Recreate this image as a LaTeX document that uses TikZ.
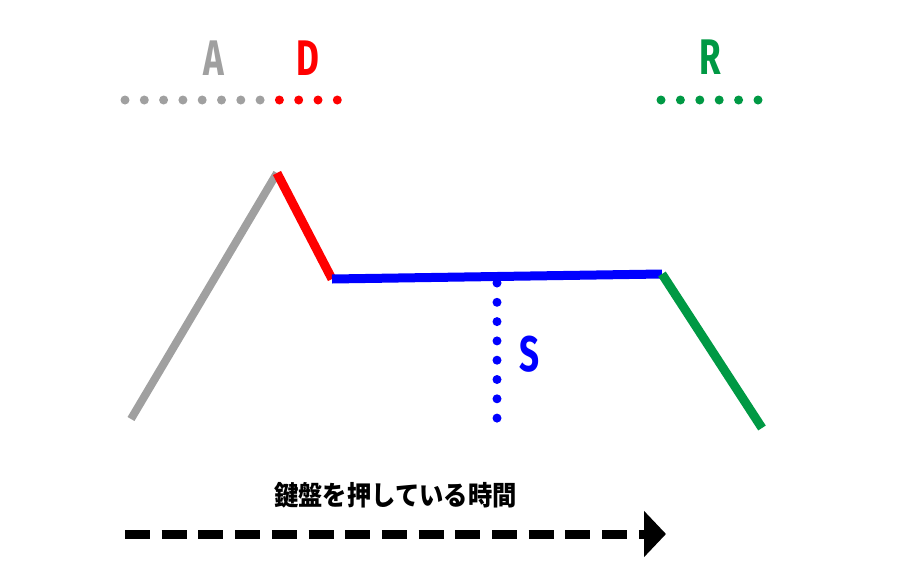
\documentclass[tikz,border=0pt]{standalone}
\usepackage{fontspec}
\usepackage{tikz}
\usetikzlibrary{arrows.meta}
\newfontfamily\adsrfont[FakeStretch=0.7]{Fira Sans}
\newfontfamily\jpfont[FakeStretch=0.9]{Noto Sans CJK JP}
\definecolor{agray}{RGB}{160,160,160}
\definecolor{dred}{RGB}{255,0,0}
\definecolor{sblue}{RGB}{0,0,255}
\definecolor{rgreen}{RGB}{0,153,68}

\begin{document}
\begin{tikzpicture}[x=1pt,y=-1pt]
  \useasboundingbox (0,0) rectangle (908,587);
  \tikzstyle{Phase}=[line width=9pt]
  \tikzstyle{PhaseLabel}=[font=\adsrfont\bfseries\fontsize{50}{50}\selectfont,inner sep=0pt]
  %\tikzstyle{Dot}=[circle,fill,inner sep=0pt,minimum size=9pt]

  % envelope
  \coordinate (start) at (131,419);
  \coordinate (peak) at (277,173);
  \coordinate (sus) at (332,279);
  \coordinate (rel) at (662,274);
  \coordinate (end) at (762,428);

  \draw[Phase,agray,line width=8pt] (start) -- (peak);
  \draw[Phase,dred] (peak) -- (sus);
  \draw[Phase,sblue] (sus) -- (rel);
  \draw[Phase,rgreen] (rel) -- (end);

  % dots
  \foreach \i in {0,...,7}
    \fill[agray] (125+19.3*\i,100) circle (4.5);
  \foreach \i in {8,...,11}
    \fill[dred] (125+19.3*\i,100) circle (4.5);
  \foreach \i in {0,...,5}
    \fill[rgreen] (661+19.4*\i,100) circle (4.5);
  \foreach \i in {0,...,7}
    \fill[sblue] (497,283+19.3*\i) circle (4.5);

  \node[PhaseLabel,agray] (A) at (213.5,58) {A};
  \node[PhaseLabel,dred] (D) at (307.5,58) {D};
  \node[PhaseLabel,rgreen] (R) at (710,57) {R};
  \node[PhaseLabel,sblue] (S) at (530,354) {S};

  % time arrow
  \node[font=\jpfont\bfseries\fontsize{27}{27}\selectfont,inner sep=0pt] (time) at (395.5,495) {鍵盤を押している時間};
  \coordinate (tstart) at (125,534);
  \coordinate (tend) at (666,534);
  \draw[line width=9pt,dash pattern=on 25pt off 11.7pt,-{Triangle[length=22pt,width=45pt]}] (tstart) -- (tend);

\end{tikzpicture}
\end{document}
